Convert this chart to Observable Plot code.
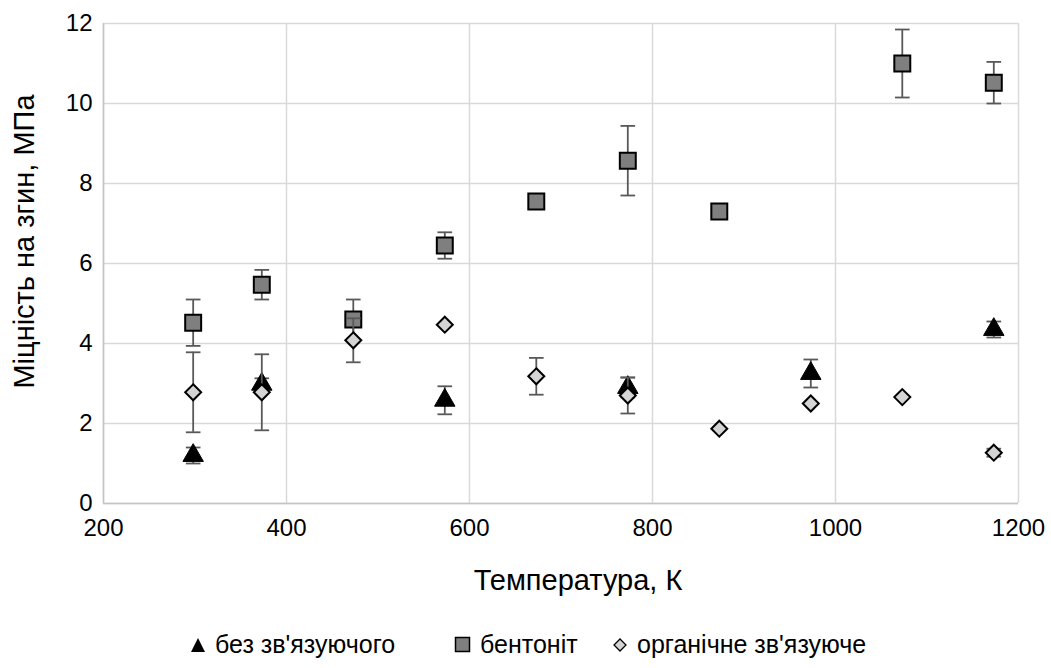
<!DOCTYPE html>
<html>
<head>
<meta charset="utf-8">
<script src="https://cdn.jsdelivr.net/npm/d3@7"></script>
<script src="https://cdn.jsdelivr.net/npm/@observablehq/plot@0.6"></script>
<style>
  html, body { margin: 0; padding: 0; background: #fff; }
  body { width: 1051px; height: 668px; overflow: hidden; font-family: "Liberation Sans", Arial, sans-serif; }
  #legend { position: relative; height: 40px; margin-top: 15px; font-size: 25px; color: #000; }
  .item { display: flex; align-items: center; position: absolute; top: 0; }
  .item svg { margin-right: 9px; }
</style>
</head>
<body>
<div id="chart"></div>
<div id="legend"></div>
<script>
// ---- data ----
const seriesNames = ["без зв'язуючого", "бентоніт", "органічне зв'язуюче"];

const noneT   = [298, 373, 573, 773, 973, 1173];
const noneV   = [1.2, 2.98, 2.58, 2.9, 3.25, 4.35];
const noneErr = [0.2, 0.15, 0.35, 0.25, 0.35, 0.2];

const bentT   = [298, 373, 473, 573, 673, 773, 873, 1073, 1173];
const bentV   = [4.52, 5.47, 4.6, 6.45, 7.55, 8.57, 7.3, 11.0, 10.52];
const bentErr = [0.58, 0.37, 0.5, 0.33, 0, 0.87, 0, 0.85, 0.52];

const orgT    = [298, 373, 473, 573, 673, 773, 873, 973, 1073, 1173];
const orgV    = [2.78, 2.78, 4.08, 4.47, 3.18, 2.7, 1.87, 2.5, 2.66, 1.27];
const orgErr  = [1.0, 0.95, 0.55, 0, 0.46, 0.45, 0, 0, 0, 0.1];

const xTicks = [200, 400, 600, 800, 1000, 1200];
const yTicks = [0, 2, 4, 6, 8, 10, 12];
const xTitle = "Температура, К";
const yTitle = "Міцність на згин, МПа";

// ---- build tables ----
const mk = (T, V, E, s) => T.map((t, i) => ({T: t, v: V[i], e: E[i], s}));
const none = mk(noneT, noneV, noneErr, seriesNames[0]);
const bent = mk(bentT, bentV, bentErr, seriesNames[1]);
const org  = mk(orgT, orgV, orgErr, seriesNames[2]);

const capHalf = 8; // in data units (K)
const errMarks = (data) => {
  const d = data.filter(x => x.e > 0);
  const st = {stroke: "#595959", strokeWidth: 1.8};
  return [
    Plot.ruleX(d, {x: "T", y1: x => x.v - x.e, y2: x => x.v + x.e, ...st}),
    Plot.link(d, {x1: x => x.T - capHalf, x2: x => x.T + capHalf, y1: x => x.v + x.e, y2: x => x.v + x.e, ...st}),
    Plot.link(d, {x1: x => x.T - capHalf, x2: x => x.T + capHalf, y1: x => x.v - x.e, y2: x => x.v - x.e, ...st})
  ];
};

const font = "Liberation Sans, Arial, sans-serif";

const chart = Plot.plot({
  width: 1051,
  height: 615,
  marginLeft: 103,
  marginRight: 33,
  marginTop: 23,
  marginBottom: 112,
  style: {fontFamily: font, background: "#fff", color: "#000"},
  x: {domain: [200, 1200]},
  y: {domain: [0, 12]},
  marks: [
    Plot.gridX(xTicks, {stroke: "#d9d9d9", strokeOpacity: 1, strokeWidth: 1.5}),
    Plot.gridY(yTicks, {stroke: "#d9d9d9", strokeOpacity: 1, strokeWidth: 1.5}),
    Plot.ruleX([200], {stroke: "#c4c4c4", strokeWidth: 1.5}),
    Plot.ruleY([0], {stroke: "#c4c4c4", strokeWidth: 1.5}),
    Plot.axisX(xTicks, {tickSize: 0, tickPadding: 15, fontSize: 24, label: null, tickFormat: d => String(d)}),
    Plot.axisY(yTicks, {tickSize: 0, tickPadding: 11, fontSize: 24, label: null, tickFormat: d => String(d)}),
    Plot.text([xTitle], {frameAnchor: "bottom", textAnchor: "middle", dx: 17, dy: 86, fontSize: 29}),
    Plot.text([yTitle], {frameAnchor: "left", textAnchor: "middle", rotate: -90, dx: -79, dy: -22, fontSize: 29}),
    ...errMarks(none),
    Plot.dot(none, {x: "T", y: "v", symbol: "triangle", r: 7.6, fill: "#000", stroke: "#000", strokeWidth: 1}),
    ...errMarks(bent),
    Plot.dot(bent, {x: "T", y: "v", symbol: "square", r: 9, fill: "#7f7f7f", stroke: "#000", strokeWidth: 2}),
    ...errMarks(org),
    Plot.dot(org, {x: "T", y: "v", symbol: "diamond2", r: 7.2, fill: "#d4d4d4", stroke: "#000", strokeWidth: 2})
  ]
});
document.getElementById("chart").appendChild(chart);

// ---- legend ----
const legend = document.getElementById("legend");
const symbols = [
  `<svg width="16" height="16"><polygon points="8,1 15,15 1,15" fill="#000"/></svg>`,
  `<svg width="17" height="17"><rect x="1.5" y="1.5" width="14" height="14" fill="#7f7f7f" stroke="#000" stroke-width="1.5"/></svg>`,
  `<svg width="16" height="16"><polygon points="8,2 14,8 8,14 2,8" fill="#d4d4d4" stroke="#000" stroke-width="1.3"/></svg>`
];
const lefts = [190, 454, 612];
seriesNames.forEach((n, i) => {
  const el = document.createElement("div");
  el.className = "item";
  el.style.left = lefts[i] + "px";
  el.innerHTML = symbols[i] + `<span>${n}</span>`;
  legend.appendChild(el);
});
</script>
</body>
</html>
